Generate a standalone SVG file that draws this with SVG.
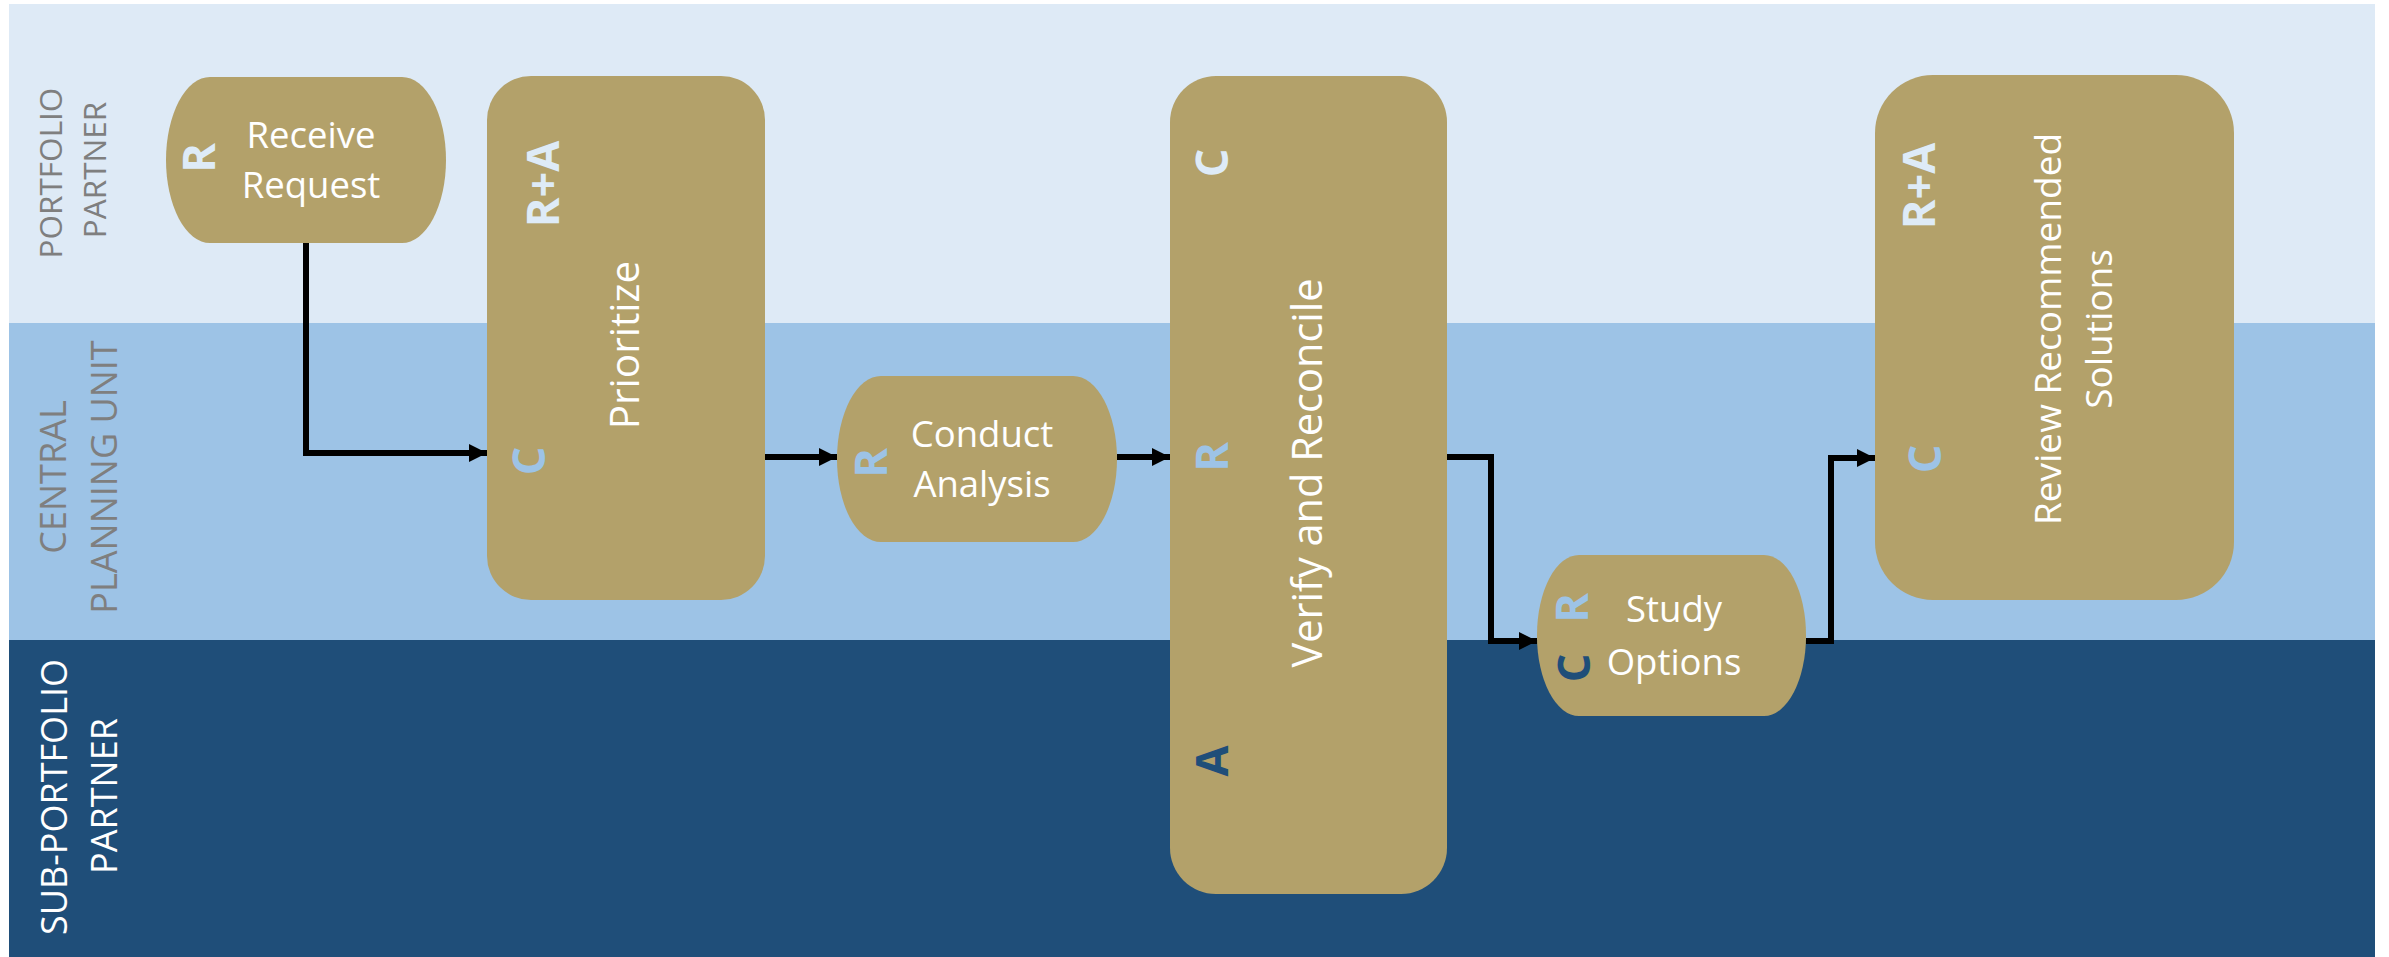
<svg xmlns="http://www.w3.org/2000/svg" width="2389" height="957" viewBox="0 0 2389 957">
  <style>
    .lane-label { font-family: "Open Sans", "Liberation Sans", sans-serif; text-anchor: middle; }
    .lane-dim { fill: #7f7f7f; }
    .lane-light { fill: #ffffff; }
    .node { fill: #b3a16a; }
    .htext { font-family: "Open Sans", "Liberation Sans", sans-serif; font-size: 36.5px; fill: #ffffff; text-anchor: middle; }
    .vtext { font-family: "Open Sans", "Liberation Sans", sans-serif; fill: #ffffff; text-anchor: middle; }
    .raci { font-family: "Open Sans", "Liberation Sans", sans-serif; font-weight: bold; font-size: 45px; text-anchor: middle; }
    .r1 { fill: #deebf7; }
    .r2 { fill: #9dc3e6; }
    .r3 { fill: #1f4e79; }
    .flow { fill: none; stroke: #000000; stroke-width: 6; marker-end: url(#arrow); }
  </style>
  <defs>
    <marker id="arrow" markerUnits="userSpaceOnUse" markerWidth="18" markerHeight="18" refX="18" refY="9" orient="auto">
      <path d="M0,0 L18,9 L0,18 Z" fill="#000000"/>
    </marker>
  </defs>

  <rect x="0" y="0" width="2389" height="957" fill="#ffffff"/>

  <!-- swimlanes -->
  <g id="lanes">
    <rect x="9" y="4" width="2366" height="319" fill="#deeaf6"/>
    <rect x="9" y="323" width="2366" height="317" fill="#9dc3e6"/>
    <rect x="9" y="640" width="2366" height="317" fill="#1f4e79"/>
  </g>

  <g id="lane-portfolio-partner">
    <text class="lane-label lane-dim" font-size="31.5" x="62" y="173" transform="rotate(-90 62 173)">PORTFOLIO</text>
    <text class="lane-label lane-dim" font-size="31.5" x="106" y="170" transform="rotate(-90 106 170)">PARTNER</text>
  </g>
  <g id="lane-central-planning-unit">
    <text class="lane-label lane-dim" font-size="36" x="66" y="477" transform="rotate(-90 66 477)">CENTRAL</text>
    <text class="lane-label lane-dim" font-size="36" x="117" y="477" transform="rotate(-90 117 477)">PLANNING UNIT</text>
  </g>
  <g id="lane-sub-portfolio-partner">
    <text class="lane-label lane-light" font-size="36" x="67" y="797" transform="rotate(-90 67 797)">SUB-PORTFOLIO</text>
    <text class="lane-label lane-light" font-size="36" x="117" y="796" transform="rotate(-90 117 796)">PARTNER</text>
  </g>

  <!-- connectors -->
  <g id="connectors">
    <path class="flow" d="M306,243 V453 H487"/>
    <path class="flow" d="M765,457 H837"/>
    <path class="flow" d="M1117,457 H1170"/>
    <path class="flow" d="M1447,457 H1491 V641 H1537"/>
    <path class="flow" d="M1806,641 H1831 V458 H1875"/>
  </g>

  <!-- process steps -->
  <g id="receive-request">
    <rect class="node" x="166" y="77" width="280" height="166" rx="44" ry="83"/>
    <text class="htext" x="311" y="148">Receive</text>
    <text class="htext" x="311" y="198">Request</text>
    <text class="raci r1" x="215" y="158" transform="rotate(-90 215 158)">R</text>
  </g>

  <g id="prioritize">
    <rect class="node" x="487" y="76" width="278" height="524" rx="44" ry="44"/>
    <text class="vtext" font-size="40.5" x="639" y="345" transform="rotate(-90 639 345)">Prioritize</text>
    <text class="raci r1" x="559" y="184" transform="rotate(-90 559 184)">R+A</text>
    <text class="raci r2" x="545" y="461" transform="rotate(-90 545 461)">C</text>
  </g>

  <g id="conduct-analysis">
    <rect class="node" x="837" y="376" width="280" height="166" rx="44" ry="83"/>
    <text class="htext" x="982" y="447">Conduct</text>
    <text class="htext" x="982" y="497">Analysis</text>
    <text class="raci r2" x="887" y="463" transform="rotate(-90 887 463)">R</text>
  </g>

  <g id="verify-and-reconcile">
    <rect class="node" x="1170" y="76" width="277" height="818" rx="46" ry="46"/>
    <text class="vtext" font-size="41.5" x="1322" y="473" transform="rotate(-90 1322 473)">Verify and Reconcile</text>
    <text class="raci r1" x="1228" y="163" transform="rotate(-90 1228 163)">C</text>
    <text class="raci r2" x="1228" y="457" transform="rotate(-90 1228 457)">R</text>
    <text class="raci r3" x="1228" y="761" transform="rotate(-90 1228 761)">A</text>
  </g>

  <g id="study-options">
    <rect class="node" x="1537" y="555" width="269" height="161" rx="42" ry="80"/>
    <text class="htext" x="1674" y="622">Study</text>
    <text class="htext" x="1674" y="675">Options</text>
    <text class="raci r2" x="1588" y="608" transform="rotate(-90 1588 608)">R</text>
    <text class="raci r3" x="1590" y="668" transform="rotate(-90 1590 668)">C</text>
  </g>

  <g id="review-recommended-solutions">
    <rect class="node" x="1875" y="75" width="359" height="525" rx="58" ry="58"/>
    <text class="vtext" font-size="37" x="2061" y="329" transform="rotate(-90 2061 329)">Review Recommended</text>
    <text class="vtext" font-size="37" x="2112" y="329" transform="rotate(-90 2112 329)">Solutions</text>
    <text class="raci r1" x="1935" y="186" transform="rotate(-90 1935 186)">R+A</text>
    <text class="raci r2" x="1941" y="459" transform="rotate(-90 1941 459)">C</text>
  </g>
</svg>
